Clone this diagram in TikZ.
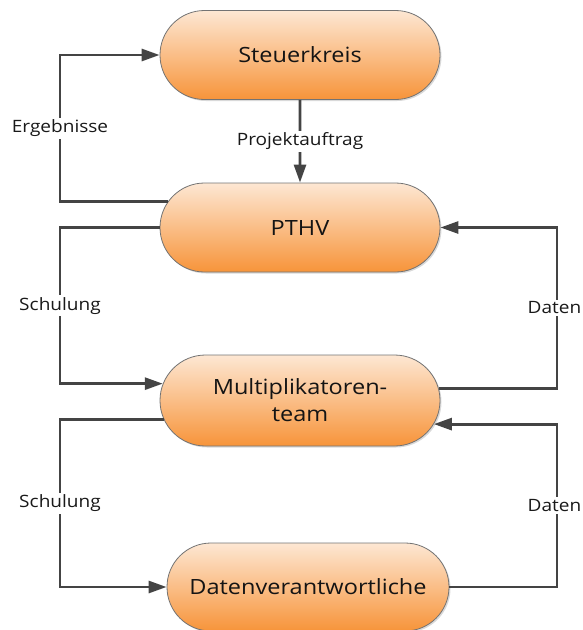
\documentclass[tikz,border=0pt]{standalone}
\usepackage{fontspec}
\setmainfont[FakeStretch=1.12]{Open Sans}
\usepackage{tikz}
\usetikzlibrary{arrows.meta,positioning,shapes.misc,shadows}

\definecolor{boxtop}{RGB}{253,231,211}
\definecolor{boxbot}{RGB}{247,148,58}
\definecolor{linegray}{RGB}{68,68,68}

\begin{document}
\begin{tikzpicture}[x=1pt, y=-1pt,
		stage/.style={rounded rectangle, draw=black!55, line width=0.8pt,
				top color=boxtop, bottom color=boxbot,
				drop shadow={shadow xshift=1.5pt, shadow yshift=-1.5pt, opacity=0.3},
				minimum width=280pt, minimum height=89pt, inner sep=0pt,
				font=\fontsize{21}{27}\selectfont, align=center, text=black!92},
		lbl/.style={fill=white, inner sep=2pt,
				font=\fontsize{17}{20}\selectfont, text=black!90},
		arr/.style={-{Triangle[length=18pt,width=12pt]}, line width=2.8pt, linegray}]

	\useasboundingbox (0,0) rectangle (582,630);

	% Stages
	\node[stage] (steuer) at (300,55) {Steuerkreis};
	\node[stage] (pthv) at (300,227.5) {PTHV};
	\node[stage, minimum height=91pt] (multi) at (300,400.5) {Multiplikatoren-\\team};
	\node[stage, minimum width=282pt, minimum height=88pt] (datenv) at (308,587)
	{Datenverantwortliche};

	% Side rails
	\coordinate (lft) at (60,0);
	\coordinate (rgt) at (557,0);

	% Top: order and results
	\draw[arr] (steuer) -- node[lbl] {Projektauftrag} (pthv);
	\draw[arr] (pthv.169.5) -- (pthv.169.5 -| lft)
		-- node[lbl] {Ergebnisse} (steuer.west -| lft) -- (steuer.west);

	% Middle: training down, data up
	\draw[arr] (pthv.west) -- (pthv.west -| lft)
		-- node[lbl] {Schulung} (multi.173.6 -| lft) -- (multi.173.6);
	\draw[arr] (multi.5.6) -- (multi.5.6 -| rgt)
		-- node[lbl, xshift=-2.5pt, inner xsep=1pt] {Daten} (pthv.east -| rgt) -- (pthv.east);

	% Bottom: training down, data up
	\draw[arr] (multi.188.6) -- (multi.188.6 -| lft)
		-- node[lbl] {Schulung} (datenv.west -| lft) -- (datenv.west);
	\draw[arr] (datenv.east) -- (datenv.east -| rgt)
		-- node[lbl, xshift=-2.5pt, inner xsep=1pt] {Daten} (multi.350.5 -| rgt) -- (multi.350.5);

\end{tikzpicture}
\end{document}
